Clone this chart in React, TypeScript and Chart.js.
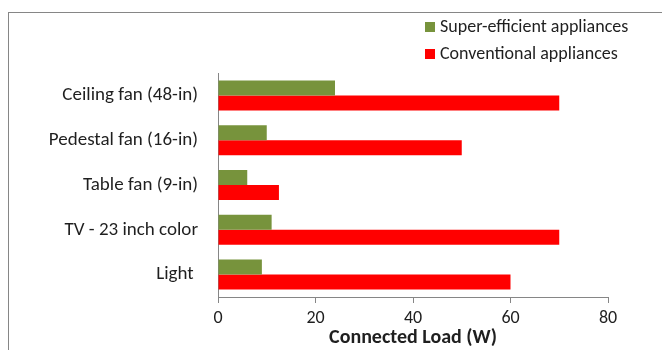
import React, { useEffect, useRef } from "react";
import { Chart, registerables } from "chart.js";

Chart.register(...registerables);

const categories = [
  "Ceiling fan (48-in)",
  "Pedestal fan (16-in)",
  "Table fan (9-in)",
  "TV - 23 inch color",
  "Light ",
];
const superEfficient = [24, 10, 6, 11, 9];
const conventional = [70, 50, 12.5, 70, 60];
const seriesNames = ["Super-efficient appliances", "Conventional appliances"];
const seriesColors = ["#77933C", "#FF0000"];
const xTicks = [0, 20, 40, 60, 80];
const xTitle = "Connected Load (W)";

const FONT = "Carlito, Lato, 'Liberation Sans', sans-serif";
const TEXT = "#1f1f1f";
const AXIS = "#868686";

// Outer frame of the chart object
const framePlugin = {
  id: "frame",
  beforeDraw(chart: any) {
    const { ctx } = chart;
    ctx.save();
    ctx.fillStyle = "#ffffff";
    ctx.fillRect(0, 0, chart.width, chart.height);
    ctx.strokeStyle = AXIS;
    ctx.lineWidth = 1;
    ctx.strokeRect(8.5, 12.5, chart.width + 20, chart.height + 20);
    ctx.restore();
  },
};

// Stacked legend in the upper right
const legendPlugin = {
  id: "stackedLegend",
  afterDraw(chart: any) {
    const { ctx } = chart;
    ctx.save();
    ctx.font = `18px ${FONT}`;
    ctx.textBaseline = "middle";
    ctx.textAlign = "left";
    chart.data.datasets.forEach((ds: any, i: number) => {
      const cy = 27 + i * 27;
      ctx.fillStyle = ds.backgroundColor;
      ctx.fillRect(425, cy - 5, 10, 10);
      ctx.fillStyle = TEXT;
      ctx.fillText(ds.label, 440, cy);
    });
    ctx.restore();
  },
};

export default function App() {
  const ref = useRef<HTMLCanvasElement | null>(null);

  useEffect(() => {
    if (!ref.current) return;
    const chart = new Chart(ref.current, {
      type: "bar",
      data: {
        labels: categories,
        datasets: [
          {
            label: seriesNames[0],
            data: superEfficient,
            backgroundColor: seriesColors[0],
            categoryPercentage: 0.67,
            barPercentage: 1,
          },
          {
            label: seriesNames[1],
            data: conventional,
            backgroundColor: seriesColors[1],
            categoryPercentage: 0.67,
            barPercentage: 1,
          },
        ],
      },
      options: {
        indexAxis: "y",
        animation: false,
        responsive: false,
        layout: { padding: { top: 73, right: 54, bottom: 0, left: 0 } },
        plugins: {
          legend: { display: false },
          tooltip: { enabled: false },
        },
        scales: {
          x: {
            min: 0,
            max: 80,
            afterBuildTicks: (s: any) => {
              s.ticks = xTicks.map((v) => ({ value: v }));
            },
            afterFit: (s: any) => {
              s.height = 53;
            },
            grid: {
              drawOnChartArea: false,
              drawTicks: true,
              tickLength: 6,
              color: AXIS,
            },
            border: { display: true, color: AXIS },
            ticks: {
              padding: 5,
              color: TEXT,
              font: { family: FONT, size: 18 },
            },
            title: {
              display: true,
              text: xTitle,
              color: TEXT,
              padding: { top: 0, bottom: 0 },
              font: { family: FONT, size: 20, weight: "bold" },
            },
          },
          y: {
            afterFit: (s: any) => {
              s.width = 218;
            },
            grid: { display: false, drawTicks: false },
            border: { display: true, color: AXIS },
            ticks: {
              padding: 20,
              color: TEXT,
              font: { family: FONT, size: 19 },
            },
          },
        },
      },
      plugins: [framePlugin, legendPlugin],
    } as any);
    return () => chart.destroy();
  }, []);

  return (
    <div style={{ position: "absolute", left: 0, top: 0, width: 662, height: 350 }}>
      <canvas ref={ref} width={662} height={350} />
    </div>
  );
}
